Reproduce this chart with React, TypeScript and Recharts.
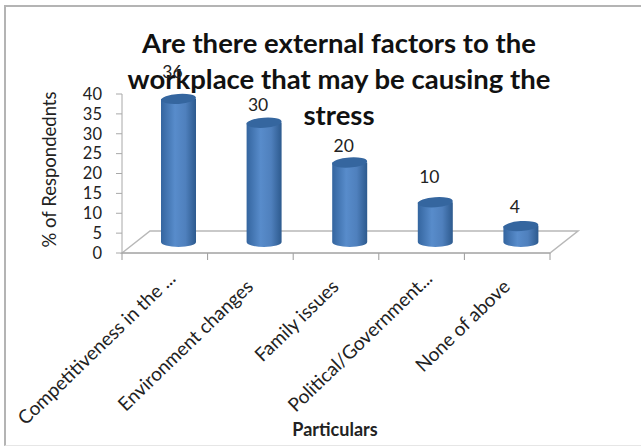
import { BarChart, Bar, XAxis, YAxis, LabelList, usePlotArea } from 'recharts';

const categories = [
  'Competitiveness in the ...',
  'Environment changes',
  'Family issues',
  'Political/Government...',
  'None of above',
];
const respondents = [36, 30, 20, 10, 4];
const yTicks = [0, 5, 10, 15, 20, 25, 30, 35, 40];
const titleLines = [
  'Are there external factors to the',
  'workplace that may be causing the',
  'stress',
];

const chartData = categories.map((name, i) => ({ name, value: respondents[i] }));

const FONT = 'Lato, "Open Sans", sans-serif';
const DEPTH_X = 28;
const DEPTH_Y = 22;
// cylinders stand halfway back on the floor
const BAR_DX = DEPTH_X / 2;
const BAR_DY = DEPTH_Y / 2;
const labelLift = [27, 18, 17, 25, 19];

function Floor() {
  const plot = usePlotArea();
  if (!plot) return null;
  const { x, y, width, height } = plot;
  const base = y + height;
  const step = width / categories.length;
  return (
    <g>
      <path
        d={`M${x} ${base}L${x + DEPTH_X} ${base - DEPTH_Y}H${x + width + DEPTH_X}L${x + width} ${base}Z`}
        fill="#fff"
        stroke="#b8b8b8"
        strokeWidth={1.5}
      />
      {categories.concat('').map((_, i) => (
        <line key={i} x1={x + i * step} x2={x + i * step} y1={base} y2={base + 7} stroke="#9a9a9a" />
      ))}
    </g>
  );
}

function Cylinder(props: any) {
  const { x, y, width, height } = props;
  const cx = x + width / 2 + BAR_DX;
  const left = cx - width / 2;
  const right = cx + width / 2;
  const top = y - BAR_DY;
  const bottom = y + height - BAR_DY;
  const ry = 5;
  return (
    <g>
      <path
        d={`M${left} ${top}V${bottom}A${width / 2} ${ry} 0 0 0 ${right} ${bottom}V${top}Z`}
        fill="url(#cylinderBody)"
      />
      <ellipse
        cx={cx}
        cy={top}
        rx={width / 2}
        ry={ry}
        fill="#35669f"
        transform={`rotate(-4 ${cx} ${top})`}
      />
    </g>
  );
}

function ValueLabel(props: any) {
  const { x, y, width, value, index } = props;
  return (
    <text
      x={x + width / 2 + BAR_DX - 6}
      y={y - BAR_DY - labelLift[index] + 6}
      textAnchor="middle"
      fontFamily={FONT}
      fontSize={17.5}
      fill="#222"
    >
      {value}
    </text>
  );
}

function CategoryTick(props: any) {
  const { x, y, payload } = props;
  // truncated names carry their dots further up the slope
  const extra = String(payload.value).endsWith('...') ? 8 : 0;
  return (
    <text
      transform={`translate(${x + 4 + extra} ${y + 27 - extra}) rotate(-44)`}
      textAnchor="end"
      fontFamily={FONT}
      fontSize={19}
      fill="#222"
    >
      {payload.value}
    </text>
  );
}

export default function App() {
  return (
    <div style={{ position: 'absolute', left: 0, top: 0, width: 641, height: 448, background: '#fff' }}>
      <div
        style={{
          position: 'absolute',
          left: 4,
          top: 5,
          width: 637,
          height: 441,
          boxSizing: 'border-box',
          borderLeft: '2px solid #b4b4b4',
          borderTop: '2px solid #b4b4b4',
          borderBottom: '1px solid #e6e6e6',
        }}
      />
      <div style={{ position: 'absolute', left: 0, top: 0 }}>
        <BarChart
          width={641}
          height={448}
          data={chartData}
          margin={{ top: 94, right: 91, bottom: 0, left: 0 }}
          barSize={35}
        >
          <defs>
            <linearGradient id="cylinderBody" x1="0" y1="0" x2="1" y2="0">
              <stop offset="0%" stopColor="#34659f" />
              <stop offset="40%" stopColor="#588ccb" />
              <stop offset="70%" stopColor="#4f80bd" />
              <stop offset="100%" stopColor="#2d5a8e" />
            </linearGradient>
          </defs>
          <Floor />
          <XAxis
            dataKey="name"
            interval={0}
            height={195}
            tick={<CategoryTick />}
            tickLine={false}
            axisLine={{ stroke: '#a8a8a8' }}
            label={{
              value: 'Particulars',
              position: 'insideBottom',
              offset: 12,
              fontFamily: FONT,
              fontSize: 18,
              fontWeight: 700,
              fill: '#222',
              dx: -1,
            }}
          />
          <YAxis
            width={122}
            domain={[0, 40]}
            ticks={yTicks}
            interval={0}
            tickSize={6}
            tickMargin={14}
            tickLine={{ stroke: '#a8a8a8' }}
            axisLine={{ stroke: '#a8a8a8' }}
            tick={{ fontFamily: FONT, fontSize: 16.5, fill: '#222' }}
            label={{
              value: '% of Respondednts',
              angle: -90,
              position: 'insideLeft',
              dx: 44,
              dy: 74,
              fontFamily: FONT,
              fontSize: 18.5,
              fill: '#222',
            }}
          />
          <Bar dataKey="value" shape={<Cylinder />} isAnimationActive={false}>
            <LabelList dataKey="value" content={<ValueLabel />} />
          </Bar>
          <text textAnchor="middle" fontFamily={FONT} fontWeight={700} fontSize={27.5} fill="#111">
            {titleLines.map((line, i) => (
              <tspan key={i} x={339} y={53 + i * 36}>
                {line}
              </tspan>
            ))}
          </text>
        </BarChart>
      </div>
    </div>
  );
}
